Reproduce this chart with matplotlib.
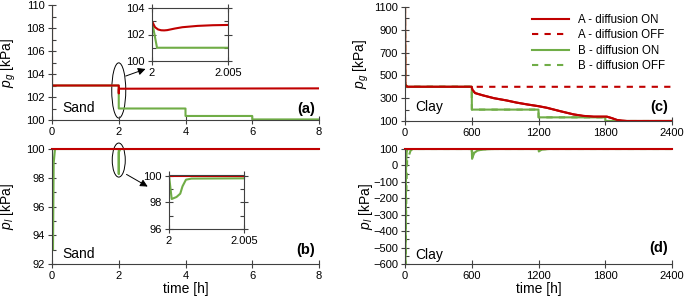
import numpy as np
import matplotlib
matplotlib.use("Agg")
import matplotlib.pyplot as plt
from matplotlib.patches import Ellipse
from matplotlib.ticker import MultipleLocator

plt.rcParams["font.family"] = ["Liberation Sans", "DejaVu Sans"]
plt.rcParams["mathtext.fontset"] = "custom"
plt.rcParams["mathtext.rm"] = "Liberation Sans"
plt.rcParams["mathtext.it"] = "Liberation Sans:italic"

RED = "#C00000"
GREEN = "#70AD47"
AXC = "#404040"

# ---------------------------------------------------
# data
# ---------------------------------------------------
# sand, gas pressure
sand_t_A = [0, 0.0005, 2, 2.0002, 2.0004, 2.0006, 2.0008, 2.001, 2.0015, 2.002, 2.003, 2.004, 2.005, 8]
sand_pg_A = [110, 103, 103, 102.55, 102.38, 102.32, 102.31, 102.33, 102.45, 102.55, 102.65, 102.7, 102.72, 102.75]
sand_t_B = [0, 0.0005, 2, 2.00033, 4, 4.0003, 6, 6.0003, 8]
sand_pg_B = [110, 103, 103, 101, 101, 100.35, 100.35, 100.05, 100.05]

# sand, liquid pressure
sand_t_Al = [0, 8]
sand_pl_A = [100, 100]
sand_t_Bl = [0, 0.03, 0.05, 0.09, 2, 2.00018, 2.0005, 2.00075, 2.0009, 2.00113, 2.0015, 2.005, 2.05, 8]
sand_pl_B = [100, 93, 99.0, 100, 100, 98.25, 98.4, 98.65, 99.2, 99.7, 99.78, 99.8, 100, 100]

# clay, gas pressure
clay_t_A_on = [0, 2, 20, 600, 605, 630, 700, 800, 915, 1000, 1100, 1200, 1275, 1400, 1515, 1600, 1695, 1815, 1860, 1905, 1950, 1995, 2400]
clay_pg_A_on = [1100, 420, 400, 400, 375, 345, 325, 300, 280, 262, 245, 230, 216, 185, 158, 145, 138, 138, 125, 109, 103, 100, 100]
clay_t_A_off = [0, 2, 20, 2400]
clay_pg_A_off = [1100, 420, 400, 400]
clay_t_B = [0, 2, 20, 600, 601, 1200, 1201, 1800, 1801, 2400]
clay_pg_B = [1100, 420, 400, 400, 200, 200, 132, 132, 100, 100]

# clay, liquid pressure
clay_t_Al = [0, 2400]
clay_pl_A = [100, 100]
clay_t_B_on = [0, 2, 6, 10, 15, 20, 30, 600, 603, 620, 650, 700, 800, 1200, 1203, 1230, 1300, 2400]
clay_pl_B_on = [100, -600, -300, 0, 80, 95, 100, 100, 40, 75, 90, 97, 100, 100, 85, 97, 100, 100]
clay_t_B_off = [0, 3, 8, 14, 20, 35, 50, 70, 600, 603, 620, 650, 700, 800, 1200, 1203, 1230, 1300, 2400]
clay_pl_B_off = [100, -600, -400, -100, 45, 60, 90, 100, 100, 45, 78, 92, 98, 100, 100, 87, 98, 100, 100]

clay_pg_ticks = [100, 300, 500, 700, 900, 1100]


def style(ax, ymajor, yminor, xmajor):
    for s in ["top", "right"]:
        ax.spines[s].set_visible(False)
    for s in ["left", "bottom"]:
        ax.spines[s].set_color(AXC)
        ax.spines[s].set_linewidth(0.8)
    ax.yaxis.set_major_locator(MultipleLocator(ymajor))
    ax.yaxis.set_minor_locator(MultipleLocator(yminor))
    ax.xaxis.set_major_locator(MultipleLocator(xmajor))
    ax.tick_params(which="major", direction="inout", length=6, width=0.8,
                   color=AXC, labelsize=8, pad=2)
    ax.tick_params(axis="y", which="minor", direction="in", length=3,
                   width=0.8, color=AXC)
    ax.tick_params(axis="x", which="minor", length=0)


def inset_style(ax):
    for s in ax.spines.values():
        s.set_color(AXC)
        s.set_linewidth(0.8)
    ax.yaxis.set_major_locator(MultipleLocator(2))
    ax.yaxis.set_minor_locator(MultipleLocator(1))
    ax.set_xticks([2, 2.005])
    ax.set_xticklabels(["2", "2.005"])
    ax.tick_params(which="major", direction="inout", length=6, width=0.8,
                   color=AXC, labelsize=8, pad=2, right=True, top=True)
    ax.tick_params(which="minor", direction="in", length=3, width=0.8,
                   color=AXC, right=True)


fig = plt.figure(figsize=(6.85, 3.03), dpi=100)
W, H = 685.0, 303.0


def px_axes(x0, x1, y0, y1):
    return fig.add_axes([x0 / W, 1 - y1 / H, (x1 - x0) / W, (y1 - y0) / H])


ax_a = px_axes(52, 319, 5, 120)
ax_b = px_axes(52, 319, 149, 264)
ax_c = px_axes(405, 672, 7, 121)
ax_d = px_axes(405, 672, 149, 264)

lw = 1.5

# (a)
ax_a.plot(sand_t_B, sand_pg_B, color=GREEN, lw=lw)
ax_a.plot(sand_t_A, sand_pg_A, color=RED, lw=lw)
ax_a.set_xlim(0, 8)
ax_a.set_ylim(100, 110)
style(ax_a, 2, 1, 2)
ax_a.set_ylabel("$p_g$ [kPa]", fontsize=10)
ax_a.yaxis.set_label_coords(-0.127, 0.5)

# (b)
ax_b.plot(sand_t_Bl, sand_pl_B, color=GREEN, lw=lw)
ax_b.plot(sand_t_Al, sand_pl_A, color=RED, lw=lw, clip_on=False)
ax_b.set_xlim(0, 8)
ax_b.set_ylim(92, 100)
style(ax_b, 2, 1, 2)
ax_b.set_ylabel("$p_l$ [kPa]", fontsize=10)
ax_b.yaxis.set_label_coords(-0.133, 0.5)
ax_b.set_xlabel("time [h]", fontsize=10, labelpad=1)

# (c)
ax_c.plot(clay_t_A_on, clay_pg_A_on, color=RED, lw=lw, label="A - diffusion ON")
ax_c.plot(clay_t_A_off, clay_pg_A_off, color=RED, lw=lw, ls=(0, (3, 3)), label="A - diffusion OFF")
ax_c.plot(clay_t_B, clay_pg_B, color=GREEN, lw=lw, label="B - diffusion ON")
ax_c.plot(clay_t_B, clay_pg_B, color=GREEN, lw=lw, ls=(0, (3, 3)), label="B - diffusion OFF")
ax_c.plot(clay_t_A_on, clay_pg_A_on, color=RED, lw=lw)
ax_c.set_xlim(0, 2400)
ax_c.set_ylim(100, 1100)
style(ax_c, 200, 100, 600)
ax_c.set_yticks(clay_pg_ticks)
ax_c.set_ylabel("$p_g$ [kPa]", fontsize=10)
ax_c.yaxis.set_label_coords(-0.127, 0.5)
ax_c.legend(loc="upper right", bbox_to_anchor=(1.0, 1.0), frameon=False,
            fontsize=8.3, handlelength=3.2, handletextpad=0.8,
            labelspacing=0.3, borderaxespad=0.2)

# (d)
ax_d.plot(clay_t_B_off, clay_pl_B_off, color=GREEN, lw=lw, ls=(0, (3, 3)))
ax_d.plot(clay_t_B_on, clay_pl_B_on, color=GREEN, lw=lw)
ax_d.plot(clay_t_Al, clay_pl_A, color=RED, lw=lw, clip_on=False)
ax_d.set_xlim(0, 2400)
ax_d.set_ylim(-600, 100)
style(ax_d, 100, 50, 600)
ax_d.set_ylabel("$p_l$ [kPa]", fontsize=10)
ax_d.yaxis.set_label_coords(-0.113, 0.5)
ax_d.set_xlabel("time [h]", fontsize=10, labelpad=1)

# labels inside panels
for ax, soil, tag, ys, yt in [(ax_a, "Sand", "(a)", 0.1, 0.1),
                              (ax_b, "Sand", "(b)", 0.09, 0.12),
                              (ax_c, "Clay", "(c)", 0.12, 0.12),
                              (ax_d, "Clay", "(d)", 0.08, 0.14)]:
    ax.text(0.04, ys, soil, transform=ax.transAxes, fontsize=10, va="center", ha="left")
    ax.text(0.985, yt, tag, transform=ax.transAxes, fontsize=10.5,
            fontweight="bold", va="center", ha="right")

# insets
ins_a = px_axes(152, 228, 8, 61)
ins_a.plot(sand_t_B, sand_pg_B, color=GREEN, lw=lw)
ins_a.plot(sand_t_A, sand_pg_A, color=RED, lw=lw)
ins_a.set_xlim(2, 2.005)
ins_a.set_ylim(100, 104)
inset_style(ins_a)

ins_b = px_axes(169, 244, 175, 229)
ins_b.plot(sand_t_Bl, sand_pl_B, color=GREEN, lw=lw)
ins_b.plot(sand_t_Al, sand_pl_A, color=RED, lw=lw)
ins_b.set_xlim(2, 2.005)
ins_b.set_ylim(96, 100.05)
inset_style(ins_b)

# ellipses and arrows pointing to the insets
ax_a.add_patch(Ellipse((2, 102.57), 0.42, 4.8, fill=False, ec="black", lw=0.7, clip_on=False))
ax_a.annotate("", xy=(2.88, 104.52), xytext=(2.13, 103.74),
              arrowprops=dict(arrowstyle="-|>", color="black", lw=0.7, mutation_scale=11),
              annotation_clip=False)
ax_b.add_patch(Ellipse((2, 99.23), 0.39, 2.37, fill=False, ec="black", lw=0.7, clip_on=False))
ax_b.annotate("", xy=(2.94, 97.29), xytext=(2.16, 98.33),
              arrowprops=dict(arrowstyle="-|>", color="black", lw=0.7, mutation_scale=11),
              annotation_clip=False)

fig.savefig("out.png", dpi=100)
